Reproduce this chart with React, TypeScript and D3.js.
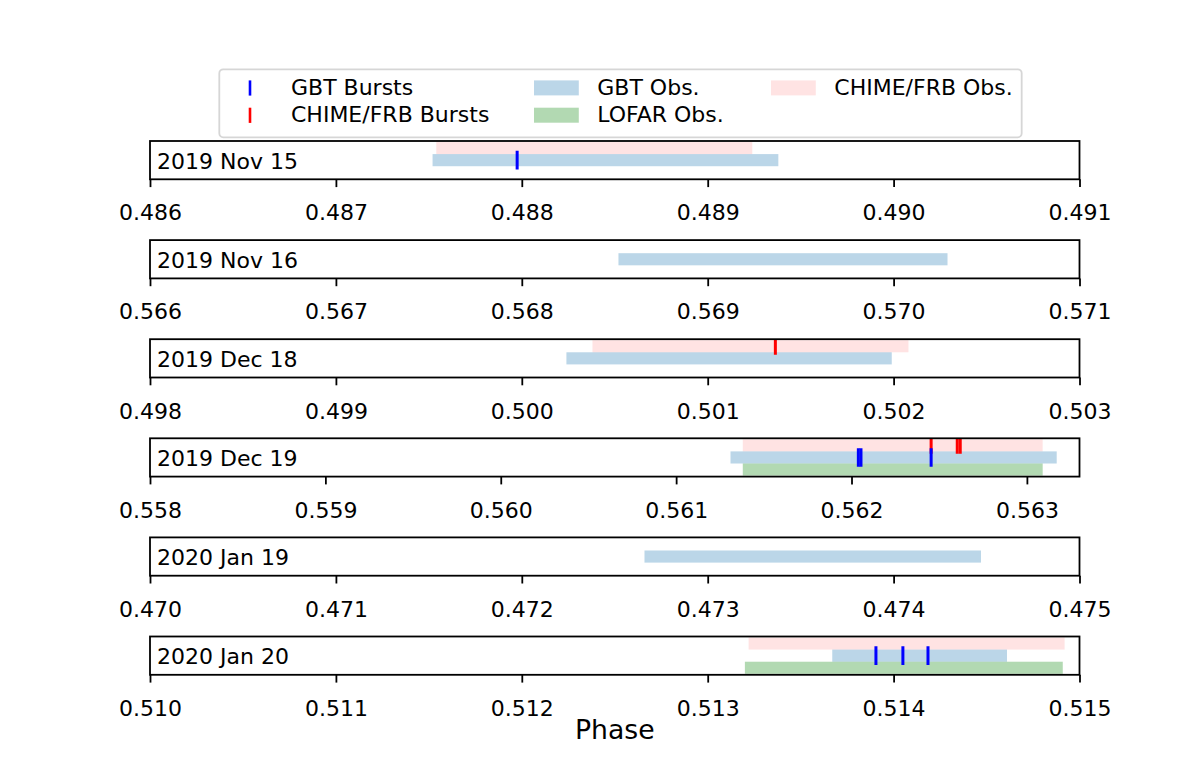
import React, { useEffect, useRef } from 'react';
import * as d3 from 'd3';

// one row per observing day
const dates = ['2019 Nov 15', '2019 Nov 16', '2019 Dec 18', '2019 Dec 19', '2020 Jan 19', '2020 Jan 20'];
const phaseRanges: [number, number][] = [
  [0.486, 0.491],
  [0.566, 0.571],
  [0.498, 0.503],
  [0.558, 0.5633],
  [0.47, 0.475],
  [0.51, 0.515],
];
const tickStarts = [0.486, 0.566, 0.498, 0.558, 0.47, 0.51];

const gbtObs: ([number, number] | null)[] = [
  [0.48752, 0.48938],
  [0.56852, 0.57029],
  [0.50024, 0.50199],
  [0.56131, 0.56317],
  [0.47266, 0.47447],
  [0.51367, 0.51461],
];
const chimeObs: ([number, number] | null)[] = [
  [0.48754, 0.48924],
  null,
  [0.50038, 0.50208],
  [0.56138, 0.56309],
  null,
  [0.51322, 0.51492],
];
const lofarObs: ([number, number] | null)[] = [
  null,
  null,
  null,
  [0.56138, 0.56309],
  null,
  [0.5132, 0.51491],
];
const gbtBursts: number[][] = [
  [0.487975],
  [],
  [],
  [0.562039, 0.562054, 0.562454],
  [],
  [0.513905, 0.51405, 0.514185],
];
const chimeBursts: number[][] = [
  [],
  [],
  [0.501364],
  [0.562454, 0.562603, 0.56262],
  [],
  [],
];

const W = 1200;
const H = 760;
const FONT = 'DejaVu Sans, sans-serif';

const App: React.FC = () => {
  const svgRef = useRef<SVGSVGElement>(null);

  useEffect(() => {
    if (!svgRef.current) return;
    const svg = d3.select(svgRef.current);
    svg.selectAll('*').remove();

    const left = 150;
    const right = 1079.5;
    const firstTop = 141;
    const step = 99.1;
    const panelH = 38.3;
    const lw = 1.8;

    const pink = 'rgba(255,0,0,0.11)';
    const blue = 'rgba(31,119,180,0.3)';
    const green = 'rgba(0,128,0,0.3)';

    dates.forEach((label, i) => {
      const top = firstTop + i * step;
      const bottom = top + panelH;
      const x = d3.scaleLinear().domain(phaseRanges[i]).range([left, right]);
      const y = d3.scaleLinear().domain([-0.08, 3.08]).range([bottom, top]);

      const g = svg.append('g');
      const clipId = `clip-${i}`;
      g.append('clipPath')
        .attr('id', clipId)
        .append('rect')
        .attr('x', left)
        .attr('y', top)
        .attr('width', right - left)
        .attr('height', panelH);

      const body = g.append('g').attr('clip-path', `url(#${clipId})`);

      const band = (r: [number, number] | null, lo: number, color: string) => {
        if (!r) return;
        body
          .append('rect')
          .attr('x', x(r[0]))
          .attr('width', x(r[1]) - x(r[0]))
          .attr('y', y(lo + 1))
          .attr('height', y(lo) - y(lo + 1))
          .attr('fill', color);
      };
      band(chimeObs[i], 2, pink);
      band(gbtObs[i], 1, blue);
      band(lofarObs[i], 0, green);

      const ticks = (vals: number[], center: number, color: string, half: number) => {
        body
          .selectAll(null)
          .data(vals)
          .enter()
          .append('line')
          .attr('x1', (d) => x(d))
          .attr('x2', (d) => x(d))
          .attr('y1', y(center) - half)
          .attr('y2', y(center) + half)
          .attr('stroke', color)
          .attr('stroke-width', 3);
      };
      ticks(chimeBursts[i], 2.5, '#ff0000', 8.5);
      ticks(gbtBursts[i], 1.5, '#0000ff', 9.3);

      g.append('rect')
        .attr('x', left)
        .attr('y', top)
        .attr('width', right - left)
        .attr('height', panelH)
        .attr('fill', 'none')
        .attr('stroke', 'black')
        .attr('stroke-width', lw);

      const tickVals = d3.range(6).map((k) => tickStarts[i] + k * 0.001);
      const axis = d3
        .axisBottom(x)
        .tickValues(tickVals)
        .tickFormat(d3.format('.3f') as any)
        .tickSizeInner(7.8)
        .tickSizeOuter(0)
        .tickPadding(6);
      const ax = g.append('g').attr('transform', `translate(0,${bottom})`).call(axis);
      ax.select('.domain').remove();
      ax.selectAll('line').attr('stroke', 'black').attr('stroke-width', lw);
      ax.selectAll('text')
        .attr('font-family', FONT)
        .attr('font-size', 22)
        .attr('fill', 'black')
        .attr('dy', null)
        .attr('y', 41)
        .attr('dominant-baseline', 'alphabetic');

      g.append('text')
        .attr('x', left + 7)
        .attr('y', (top + bottom) / 2 + 8.5)
        .attr('font-family', FONT)
        .attr('font-size', 22)
        .attr('fill', 'black')
        .text(label);
    });

    svg
      .append('text')
      .attr('x', (left + right) / 2)
      .attr('y', 739)
      .attr('text-anchor', 'middle')
      .attr('font-family', FONT)
      .attr('font-size', 26.7)
      .attr('fill', 'black')
      .text('Phase');

    // legend
    const lg = svg.append('g');
    lg.append('rect')
      .attr('x', 219.3)
      .attr('y', 69.3)
      .attr('width', 802.4)
      .attr('height', 68)
      .attr('rx', 4)
      .attr('fill', 'white')
      .attr('fill-opacity', 0.8)
      .attr('stroke', '#cccccc')
      .attr('stroke-opacity', 0.8)
      .attr('stroke-width', lw);

    const rows = [88, 115.3];
    const legendItems = [
      { kind: 'marker', color: '#0000ff', text: 'GBT Bursts', col: 0, row: 0 },
      { kind: 'marker', color: '#ff0000', text: 'CHIME/FRB Bursts', col: 0, row: 1 },
      { kind: 'patch', color: blue, text: 'GBT Obs.', col: 1, row: 0 },
      { kind: 'patch', color: green, text: 'LOFAR Obs.', col: 1, row: 1 },
      { kind: 'patch', color: pink, text: 'CHIME/FRB Obs.', col: 2, row: 0 },
    ];
    const colHandle = [228, 534, 771];
    const colText = [291, 597.3, 834.3];

    legendItems.forEach((it) => {
      const cy = rows[it.row];
      if (it.kind === 'marker') {
        lg.append('line')
          .attr('x1', 250)
          .attr('x2', 250)
          .attr('y1', cy - 7.6)
          .attr('y2', cy + 7.6)
          .attr('stroke', it.color)
          .attr('stroke-width', 2.6);
      } else {
        lg.append('rect')
          .attr('x', colHandle[it.col])
          .attr('y', cy - 7.6)
          .attr('width', 44.8)
          .attr('height', 15)
          .attr('fill', it.color);
      }
      lg.append('text')
        .attr('x', colText[it.col])
        .attr('y', cy + 7)
        .attr('font-family', FONT)
        .attr('font-size', 22)
        .attr('fill', 'black')
        .text(it.text);
    });
  }, []);

  return (
    <svg
      ref={svgRef}
      width={W}
      height={H}
      style={{ position: 'absolute', left: 0, top: 0, background: 'white' }}
    />
  );
};

export default App;
